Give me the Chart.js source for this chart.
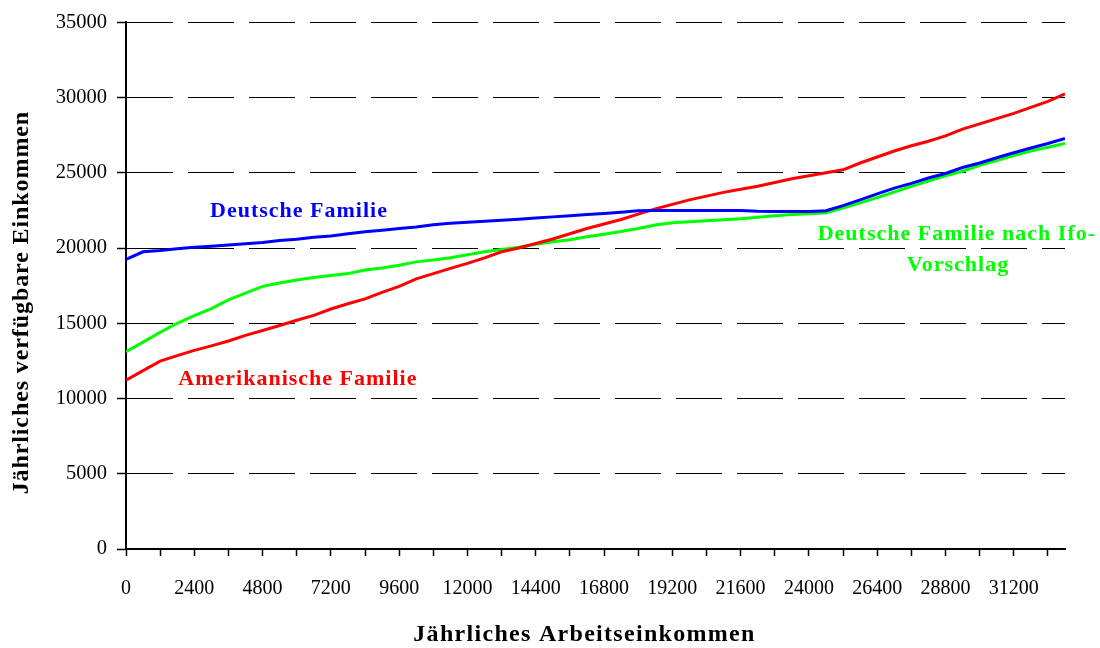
<!DOCTYPE html>
<html>
<head>
<meta charset="utf-8">
<script src="https://cdn.jsdelivr.net/npm/chart.js@4/dist/chart.umd.min.js"></script>
<style>
  html, body { margin: 0; padding: 0; background: #ffffff; }
  #wrap { width: 1100px; height: 648px; }
</style>
</head>
<body>
<div id="wrap"><canvas id="chart" width="1100" height="648"></canvas></div>
<script>
// Annual labour income (x) in steps of 600
const incomes = [
  0, 600, 1200, 1800, 2400, 3000, 3600, 4200, 4800, 5400,
  6000, 6600, 7200, 7800, 8400, 9000, 9600, 10200, 10800, 11400,
  12000, 12600, 13200, 13800, 14400, 15000, 15600, 16200, 16800, 17400,
  18000, 18600, 19200, 19800, 20400, 21000, 21600, 22200, 22800, 23400,
  24000, 24600, 25200, 25800, 26400, 27000, 27600, 28200, 28800, 29400,
  30000, 30600, 31200, 31800, 32400, 33000
];

// Disposable income, German family
const deutscheFamilie = [
  19250, 19750, 19830, 19950, 20050, 20120, 20200, 20280, 20360, 20500,
  20580, 20720, 20800, 20950, 21080, 21180, 21300, 21400, 21550, 21640,
  21720, 21780, 21850, 21920, 21990, 22070, 22140, 22220, 22300, 22380,
  22480, 22500, 22500, 22500, 22500, 22500, 22500, 22440, 22430, 22430,
  22430, 22480, 22820, 23200, 23600, 23980, 24300, 24650, 24950, 25350,
  25650, 26000, 26330, 26650, 26950, 27280
];

// Disposable income, American family
const amerikanischeFamilie = [
  11220, 11850, 12480, 12850, 13200, 13500, 13820, 14200, 14520, 14850,
  15200, 15520, 15950, 16300, 16620, 17050, 17450, 17950, 18300, 18650,
  18980, 19350, 19750, 20000, 20300, 20600, 20950, 21300, 21600, 21900,
  22250, 22600, 22900, 23200, 23450, 23700, 23900, 24100, 24350, 24600,
  24800, 25000, 25200, 25650, 26050, 26450, 26800, 27100, 27450, 27900,
  28250, 28600, 28950, 29350, 29750, 30250
];

// Disposable income, German family under the Ifo proposal
const ifoVorschlag = [
  13110, 13750, 14400, 15000, 15500, 15980, 16550, 17000, 17450, 17680,
  17880, 18040, 18170, 18300, 18540, 18680, 18850, 19080, 19200, 19350,
  19550, 19750, 19900, 20050, 20250, 20420, 20550, 20750, 20920, 21100,
  21300, 21530, 21680, 21750, 21820, 21880, 21950, 22050, 22150, 22220,
  22280, 22350, 22650, 23000, 23350, 23720, 24100, 24450, 24800, 25100,
  25500, 25820, 26150, 26450, 26700, 26950
];

const xTickLabels = ['0', '2400', '4800', '7200', '9600', '12000', '14400',
  '16800', '19200', '21600', '24000', '26400', '28800', '31200'];
const yTickValues = [0, 5000, 10000, 15000, 20000, 25000, 30000, 35000];

// Tick marks on the income axis sit on every second category
const xTickValues = incomes.filter((v, i) => i % 2 === 0);

const FONT = '"Liberation Serif", "Times New Roman", serif';

const toPoints = ys => incomes.map((x, i) => ({ x, y: ys[i] }));

// In-plot series names and axis titles
const chartTexts = {
  id: 'chartTexts',
  afterDraw(chart) {
    const { ctx, chartArea, scales: { x, y } } = chart;
    const spacing = px => { if ('letterSpacing' in ctx) ctx.letterSpacing = px; };
    ctx.save();
    ctx.textAlign = 'center';
    ctx.textBaseline = 'middle';

    ctx.font = 'bold 22px ' + FONT;
    spacing('1px');
    const notes = [
      { text: 'Deutsche Familie', color: '#0000ff', x: 6080, y: 22470 },
      { text: 'Amerikanische Familie', color: '#ff0000', x: 6040, y: 11270 },
      { text: 'Deutsche Familie nach Ifo-', color: '#00ff00', x: 29200, y: 20890 },
      { text: 'Vorschlag', color: '#00ff00', x: 29240, y: 18850 }
    ];
    notes.forEach(n => {
      ctx.fillStyle = n.color;
      ctx.fillText(n.text, x.getPixelForValue(n.x), y.getPixelForValue(n.y));
    });

    ctx.fillStyle = '#000000';
    ctx.font = 'bold 24px ' + FONT;
    spacing('1.3px');
    ctx.fillText('Jährliches Arbeitseinkommen',
      (chartArea.left + chartArea.right) / 2 - 11, chartArea.bottom + 86);

    spacing('0.9px');
    ctx.translate(22, (chartArea.top + chartArea.bottom) / 2 + 17);
    ctx.rotate(-Math.PI / 2);
    ctx.fillText('Jährliches verfügbare Einkommen', 0, 0);
    ctx.restore();
  }
};

const lineStyle = { borderWidth: 3, pointRadius: 0, tension: 0, fill: false };

new Chart(document.getElementById('chart'), {
  type: 'line',
  data: {
    datasets: [
      { label: 'Deutsche Familie', data: toPoints(deutscheFamilie), borderColor: '#0000ff', ...lineStyle },
      { label: 'Amerikanische Familie', data: toPoints(amerikanischeFamilie), borderColor: '#ff0000', ...lineStyle },
      { label: 'Deutsche Familie nach Ifo-Vorschlag', data: toPoints(ifoVorschlag), borderColor: '#00ff00', ...lineStyle }
    ]
  },
  options: {
    responsive: false,
    animation: false,
    devicePixelRatio: 1,
    layout: { padding: { top: 18, right: 35, left: 0, bottom: 0 } },
    plugins: { legend: { display: false }, tooltip: { enabled: false }, title: { display: false } },
    scales: {
      x: {
        type: 'linear',
        min: incomes[0],
        max: incomes[incomes.length - 1],
        afterBuildTicks: s => { s.ticks = xTickValues.map(v => ({ value: v })); },
        grid: {
          drawOnChartArea: false,
          drawTicks: true,
          tickLength: 7,
          tickColor: '#000000',
          tickWidth: 1.5
        },
        border: { display: true, color: '#000000', width: 2 },
        ticks: {
          autoSkip: false,
          maxRotation: 0,
          padding: 21,
          color: '#000000',
          font: { family: FONT, size: 20 },
          callback: v => (xTickLabels.includes(String(v)) ? String(v) : '')
        },
        afterFit: s => { s.height = 99; }
      },
      y: {
        type: 'linear',
        min: yTickValues[0],
        max: yTickValues[yTickValues.length - 1],
        afterBuildTicks: s => { s.ticks = yTickValues.map(v => ({ value: v })); },
        grid: {
          color: '#000000',
          lineWidth: 1,
          drawTicks: true,
          tickLength: 9,
          tickColor: '#000000',
          tickWidth: 1.5,
          tickBorderDash: []
        },
        border: { display: true, color: '#000000', width: 2, dash: [46, 15] },
        ticks: {
          padding: 10,
          color: '#000000',
          font: { family: FONT, size: 20.5 },
          callback: v => String(v)
        },
        afterFit: s => { s.width = 126; }
      }
    }
  },
  plugins: [chartTexts]
});
</script>
</body>
</html>
